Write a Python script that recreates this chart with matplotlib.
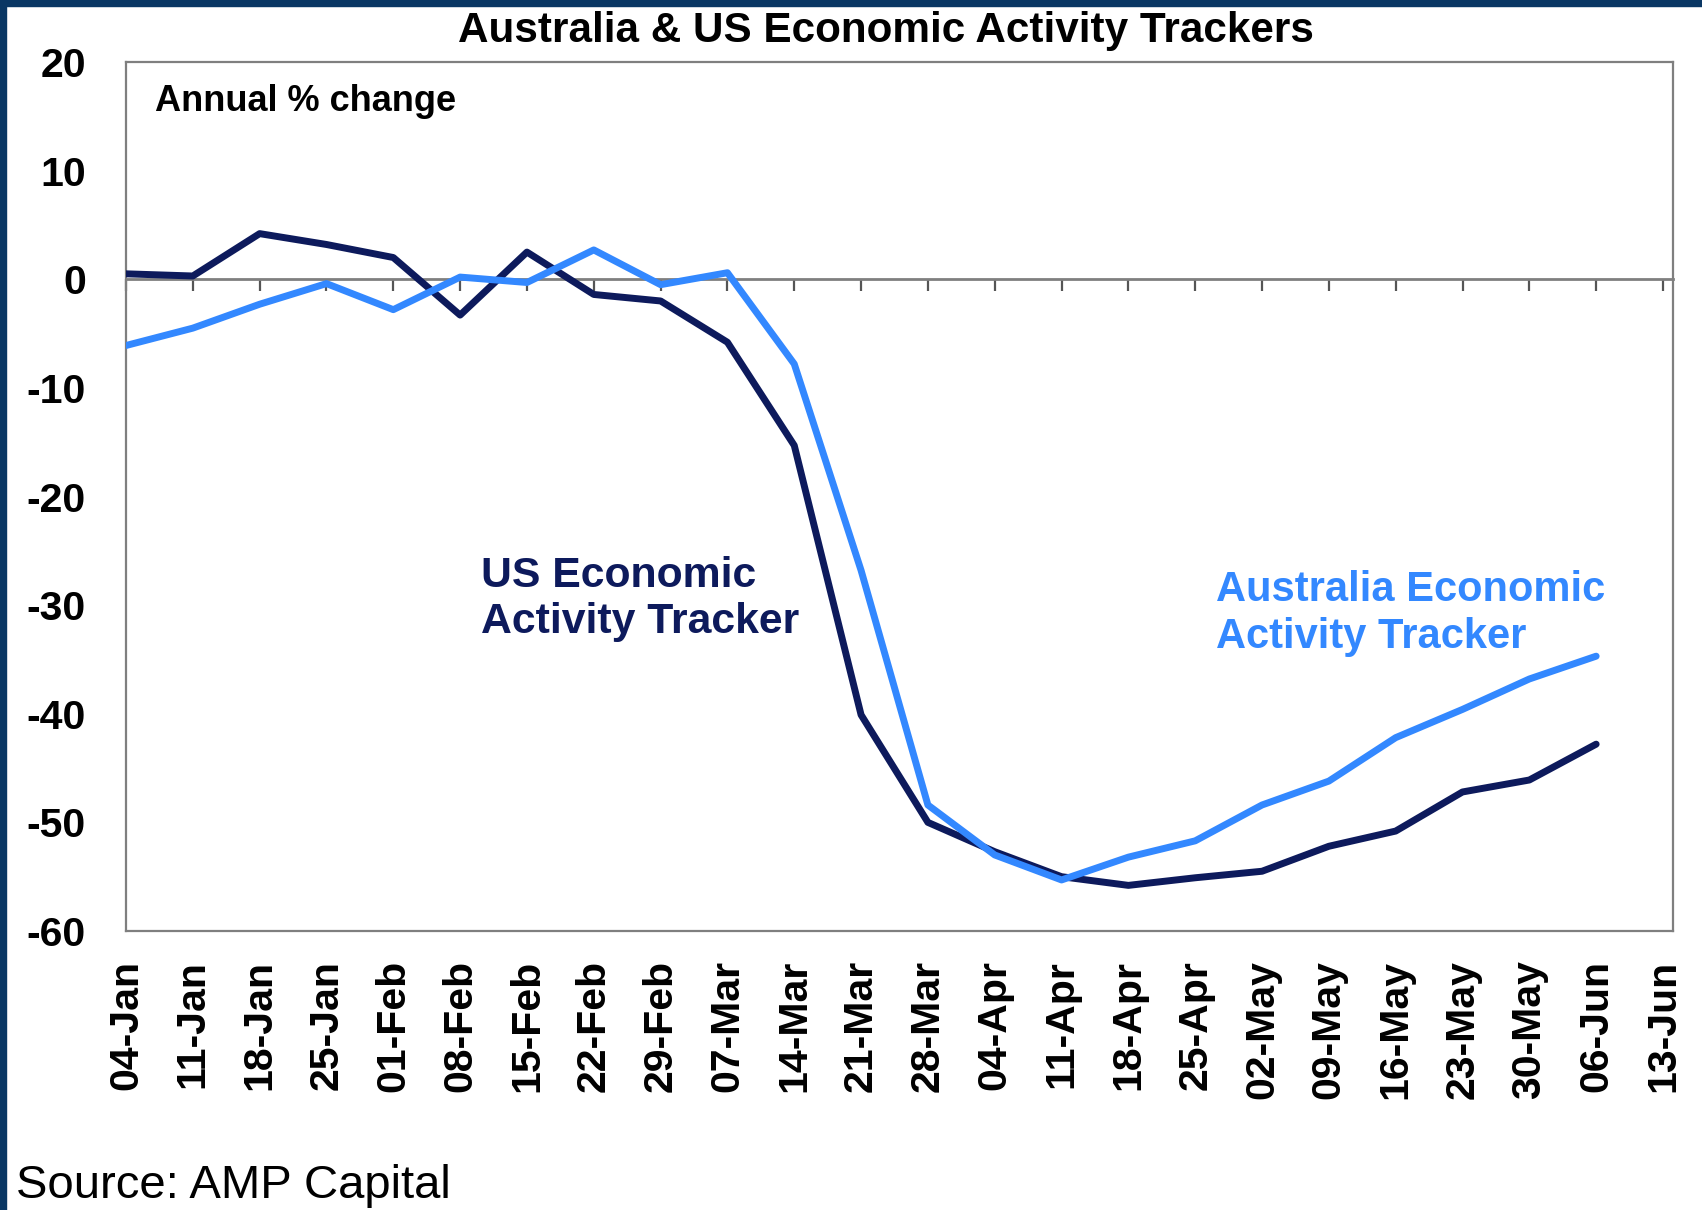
import numpy as np
import matplotlib
matplotlib.use("Agg")
import matplotlib.pyplot as plt
from matplotlib.patches import Rectangle

plt.rcParams['font.family'] = ['Liberation Sans', 'DejaVu Sans']

# ---- data ----
labels = ["04-Jan", "11-Jan", "18-Jan", "25-Jan", "01-Feb", "08-Feb", "15-Feb",
          "22-Feb", "29-Feb", "07-Mar", "14-Mar", "21-Mar", "28-Mar", "04-Apr",
          "11-Apr", "18-Apr", "25-Apr", "02-May", "09-May", "16-May", "23-May",
          "30-May", "06-Jun", "13-Jun"]
us = [0.5, 0.3, 4.2, 3.2, 2.0, -3.3, 2.5, -1.4, -2.0, -5.8, -15.3, -40.1,
      -50.0, -52.7, -55.0, -55.8, -55.1, -54.5, -52.2, -50.8, -47.2, -46.1, -42.8]
aus = [-6.1, -4.5, -2.3, -0.4, -2.8, 0.2, -0.3, 2.7, -0.5, 0.6, -7.8, -26.8,
       -48.4, -53.0, -55.3, -53.2, -51.7, -48.4, -46.2, -42.2, -39.6, -36.8, -34.7]
yticks = [20, 10, 0, -10, -20, -30, -40, -50, -60]

US_COL = '#0D1A5C'
AUS_COL = '#3388FF'
FRAME = '#7F7F7F'

W, H = 1702, 1210
fig = plt.figure(figsize=(W / 100, H / 100), dpi=100)
fig.patch.set_facecolor('white')

L, R, T, B = 126, 1673, 62, 931
ax = fig.add_axes([L / W, 1 - B / H, (R - L) / W, (B - T) / H])

ax.plot(np.arange(len(us)), us, color=US_COL, lw=5.0, solid_capstyle='round',
        solid_joinstyle='round', zorder=3)
ax.plot(np.arange(len(aus)), aus, color=AUS_COL, lw=5.0, solid_capstyle='round',
        solid_joinstyle='round', zorder=4)

ax.set_xlim(0, 23.15)
ax.set_ylim(-60, 20)
ax.set_yticks(yticks)
ax.set_yticklabels([str(v) for v in yticks], fontsize=29.5, fontweight='bold')
ax.tick_params(axis='y', length=0, pad=29)

# zero-line axis with ticks
ax.spines['bottom'].set_position(('data', 0))
ax.spines['bottom'].set_color(FRAME)
ax.spines['bottom'].set_linewidth(2.0)
ax.set_xticks(np.arange(len(labels)))
ax.tick_params(axis='x', direction='out', length=8.6, width=1.6, color='#555555',
               labelbottom=False)
for s in ['left', 'right', 'top']:
    ax.spines[s].set_color(FRAME)
    ax.spines[s].set_linewidth(1.6)

# bottom category labels
sec = ax.secondary_xaxis('bottom')
sec.set_xticks(np.arange(len(labels)))
sec.set_xticklabels(labels, rotation=90, fontsize=29.5, fontweight='bold')
sec.tick_params(axis='x', length=0, pad=21)
sec.spines['bottom'].set_color(FRAME)
sec.spines['bottom'].set_linewidth(1.6)

ax.text(0.0187, 0.955, "Annual % change", transform=ax.transAxes, fontsize=26,
        fontweight='bold', ha='left', va='center')
ax.text(0.2295, 0.382, "US Economic\nActivity Tracker", transform=ax.transAxes,
        fontsize=30.8, fontweight='bold', color=US_COL, ha='left', va='center',
        linespacing=1.22)
ax.text(0.7046, 0.365, "Australia Economic\nActivity Tracker", transform=ax.transAxes,
        fontsize=30, fontweight='bold', color=AUS_COL, ha='left', va='center',
        linespacing=1.22)

fig.text(886 / W, 1 - 42 / H, "Australia & US Economic Activity Trackers",
         fontsize=30.4, fontweight='bold', ha='center', va='baseline')
fig.text(16 / W, 1 - 1186 / H, "Source: AMP Capital", fontsize=34,
         ha='left', va='center')

# navy border on top and left
BORDER = '#0A3764'
fig.patches.append(Rectangle((0, 0), 6 / W, 1, transform=fig.transFigure,
                             color=BORDER, zorder=10))
fig.patches.append(Rectangle((0, 1 - 6 / H), 1, 6 / H, transform=fig.transFigure,
                             color=BORDER, zorder=10))

fig.savefig('out.png', dpi=100)
